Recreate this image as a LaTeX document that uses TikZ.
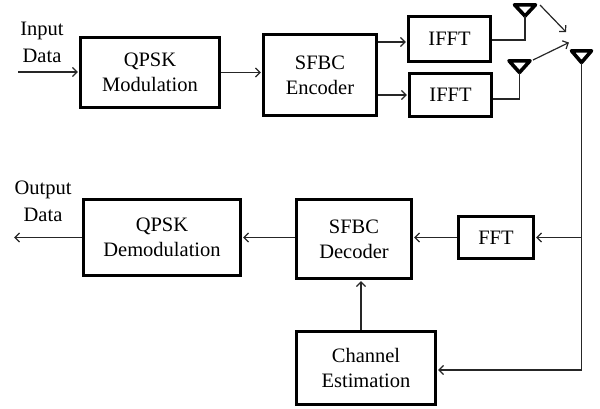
\documentclass[tikz,border=0pt]{standalone}
\usepackage{fontspec}
\setmainfont{Liberation Serif}
\usetikzlibrary{arrows.meta}
\begin{document}
\begin{tikzpicture}[x=1pt,y=-1pt,
  blk/.style={draw, line width=3pt, inner sep=0pt, align=center, font=\fontsize{20.5}{25}\selectfont},
  lbl/.style={inner sep=0pt, align=center, font=\fontsize{20.5}{27}\selectfont},
  conn/.style={line width=1.2pt, draw=black!85, -{Straight Barb[length=4.5pt,width=9pt]}, shorten >=1.2pt},
  wire/.style={line width=1.2pt, draw=black!85},
  ant/.style={line width=3.6pt, line join=round, draw=black}]
\useasboundingbox (0,0) rectangle (600,408);

% blocks
\node[blk, minimum width=139pt, minimum height=70pt] (qmod) at (150,72.5) {QPSK\\Modulation};
\node[blk, minimum width=113pt, minimum height=81pt] (enc) at (320,75) {SFBC\\Encoder};
\node[blk, minimum width=82pt, minimum height=45pt] (ifft1) at (449.5,39) {IFFT};
\node[blk, minimum width=82pt, minimum height=43pt] (ifft2) at (450.5,95) {IFFT};
\node[blk, minimum width=157pt, minimum height=76pt] (qdem) at (162,237.5) {QPSK\\Demodulation};
\node[blk, minimum width=115pt, minimum height=79pt] (dec) at (354,239) {SFBC\\Decoder};
\node[blk, minimum width=75pt, minimum height=42pt] (fft) at (496,237.5) {FFT};
\node[blk, minimum width=139pt, minimum height=73pt] (chan) at (366,368) {Channel\\Estimation};

% labels
\node[lbl] (inp) at (42,42) {Input\\Data};
\node[lbl] (outp) at (43,201) {Output\\Data};

% helper coordinates
\coordinate (inS) at (18,72);
\coordinate (outE) at (13,237);
\coordinate (t1) at (0,42);
\coordinate (t2) at (0,95);
\coordinate (a1stem) at (525,40);
\coordinate (a1apex) at (525,16);
\coordinate (a2stem) at (519.5,99);
\coordinate (a2apex) at (519.5,72.5);
\coordinate (rxapex) at (581.5,62.5);
\coordinate (rxbot) at (581.5,370);
\coordinate (vx) at (361,0);
\coordinate (r1s) at (540,5);
\coordinate (r1e) at (567,33);
\coordinate (r2s) at (533,60);
\coordinate (r2e) at (570,42);

% antennas
\draw[ant] (514.5,4.8) -- (535.5,4.8) -- (a1apex) -- cycle;
\draw[ant] (509,60.8) -- (530,60.8) -- (a2apex) -- cycle;
\draw[ant] (571.5,50.8) -- (591.5,50.8) -- (rxapex) -- cycle;

% transmitter chain
\draw[conn] (inS) -- (inS -| qmod.west);
\draw[conn] (qmod.east) -- (enc.west |- qmod.east);
\draw[conn] (enc.east |- t1) -- (ifft1.west |- t1);
\draw[conn] (enc.east |- t2) -- (ifft2.west |- t2);
\draw[wire] (ifft1.east |- a1stem) -- (a1stem) -- (a1apex);
\draw[wire] (ifft2.east |- a2stem) -- (a2stem) -- (a2apex);
\draw[conn] (r1s) -- (r1e);
\draw[conn] (r2s) -- (r2e);

% receiver chain
\draw[wire] (rxapex) -- (rxbot);
\draw[conn] (rxbot) -- (chan.east |- rxbot);
\draw[conn] (rxbot |- fft.east) -- (fft.east);
\draw[conn] (fft.west) -- (dec.east |- fft.west);
\draw[conn] (dec.west |- qdem.east) -- (qdem.east);
\draw[conn] (qdem.west) -- (qdem.west -| outE);
\draw[conn] (chan.north -| vx) -- (dec.south -| vx);
\end{tikzpicture}
\end{document}
